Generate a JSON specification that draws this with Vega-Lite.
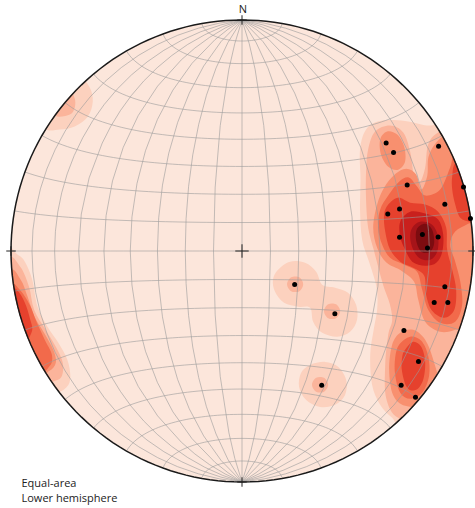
{
  "$schema": "https://vega.github.io/schema/vega-lite/v6.json",
  "width": 462,
  "height": 462,
  "autosize": "none",
  "padding": {"left": 11, "top": 20, "right": 2, "bottom": 26},
  "background": "white",
  "config": {"view": {"stroke": null}},
  "datasets": {
    "poles": [
      {"x": 0.624, "y": 0.468}, {"x": 0.656, "y": 0.426}, {"x": 0.851, "y": 0.453}, {"x": 0.715, "y": 0.286},
      {"x": 0.959, "y": 0.277}, {"x": 0.631, "y": 0.160}, {"x": 0.682, "y": 0.182}, {"x": 0.878, "y": 0.202},
      {"x": 0.989, "y": 0.141}, {"x": 0.682, "y": 0.059}, {"x": 0.781, "y": 0.071}, {"x": 0.803, "y": 0.013},
      {"x": 0.849, "y": 0.061}, {"x": 0.878, "y": -0.155}, {"x": 0.832, "y": -0.223}, {"x": 0.891, "y": -0.223},
      {"x": 0.701, "y": -0.344}, {"x": 0.764, "y": -0.478}, {"x": 0.689, "y": -0.581}, {"x": 0.751, "y": -0.633},
      {"x": 0.228, "y": -0.145}, {"x": 0.402, "y": -0.272}, {"x": 0.345, "y": -0.581}
    ],
    "contours": [
      {"id": "TL1", "level": 1, "i": 0, "x": -0.702, "y": 0.751},
      {"id": "TL1", "level": 1, "i": 1, "x": -0.659, "y": 0.708},
      {"id": "TL1", "level": 1, "i": 2, "x": -0.646, "y": 0.647},
      {"id": "TL1", "level": 1, "i": 3, "x": -0.667, "y": 0.582},
      {"id": "TL1", "level": 1, "i": 4, "x": -0.724, "y": 0.539},
      {"id": "TL1", "level": 1, "i": 5, "x": -0.789, "y": 0.526},
      {"id": "TL1", "level": 1, "i": 6, "x": -0.854, "y": 0.534},
      {"id": "TL1", "level": 1, "i": 7, "x": -0.875, "y": 0.656},
      {"id": "TL1", "level": 1, "i": 8, "x": -0.789, "y": 0.742},

      {"id": "W1", "level": 1, "i": 0, "x": -1.027, "y": 0.006},
      {"id": "W1", "level": 1, "i": 1, "x": -0.971, "y": -0.016},
      {"id": "W1", "level": 1, "i": 2, "x": -0.940, "y": -0.046},
      {"id": "W1", "level": 1, "i": 3, "x": -0.908, "y": -0.124},
      {"id": "W1", "level": 1, "i": 4, "x": -0.885, "y": -0.241},
      {"id": "W1", "level": 1, "i": 5, "x": -0.842, "y": -0.328},
      {"id": "W1", "level": 1, "i": 6, "x": -0.795, "y": -0.397},
      {"id": "W1", "level": 1, "i": 7, "x": -0.756, "y": -0.471},
      {"id": "W1", "level": 1, "i": 8, "x": -0.743, "y": -0.545},
      {"id": "W1", "level": 1, "i": 9, "x": -0.758, "y": -0.588},
      {"id": "W1", "level": 1, "i": 10, "x": -0.802, "y": -0.614},
      {"id": "W1", "level": 1, "i": 11, "x": -0.897, "y": -0.623},
      {"id": "W1", "level": 1, "i": 12, "x": -1.049, "y": -0.298},

      {"id": "M1a", "level": 1, "i": 0, "x": 0.156, "y": -0.081},
      {"id": "M1a", "level": 1, "i": 1, "x": 0.208, "y": -0.046},
      {"id": "M1a", "level": 1, "i": 2, "x": 0.273, "y": -0.051},
      {"id": "M1a", "level": 1, "i": 3, "x": 0.321, "y": -0.090},
      {"id": "M1a", "level": 1, "i": 4, "x": 0.347, "y": -0.146},
      {"id": "M1a", "level": 1, "i": 5, "x": 0.403, "y": -0.159},
      {"id": "M1a", "level": 1, "i": 6, "x": 0.459, "y": -0.181},
      {"id": "M1a", "level": 1, "i": 7, "x": 0.494, "y": -0.233},
      {"id": "M1a", "level": 1, "i": 8, "x": 0.498, "y": -0.298},
      {"id": "M1a", "level": 1, "i": 9, "x": 0.468, "y": -0.350},
      {"id": "M1a", "level": 1, "i": 10, "x": 0.412, "y": -0.371},
      {"id": "M1a", "level": 1, "i": 11, "x": 0.347, "y": -0.354},
      {"id": "M1a", "level": 1, "i": 12, "x": 0.308, "y": -0.306},
      {"id": "M1a", "level": 1, "i": 13, "x": 0.295, "y": -0.246},
      {"id": "M1a", "level": 1, "i": 14, "x": 0.243, "y": -0.241},
      {"id": "M1a", "level": 1, "i": 15, "x": 0.182, "y": -0.224},
      {"id": "M1a", "level": 1, "i": 16, "x": 0.143, "y": -0.176},
      {"id": "M1a", "level": 1, "i": 17, "x": 0.134, "y": -0.124},

      {"id": "M1b", "level": 1, "i": 0, "x": 0.295, "y": -0.493},
      {"id": "M1b", "level": 1, "i": 1, "x": 0.360, "y": -0.480},
      {"id": "M1b", "level": 1, "i": 2, "x": 0.416, "y": -0.501},
      {"id": "M1b", "level": 1, "i": 3, "x": 0.451, "y": -0.558},
      {"id": "M1b", "level": 1, "i": 4, "x": 0.446, "y": -0.623},
      {"id": "M1b", "level": 1, "i": 5, "x": 0.403, "y": -0.666},
      {"id": "M1b", "level": 1, "i": 6, "x": 0.338, "y": -0.675},
      {"id": "M1b", "level": 1, "i": 7, "x": 0.277, "y": -0.644},
      {"id": "M1b", "level": 1, "i": 8, "x": 0.247, "y": -0.588},
      {"id": "M1b", "level": 1, "i": 9, "x": 0.256, "y": -0.527},

      {"id": "R1", "level": 1, "i": 0, "x": 0.923, "y": 0.569},
      {"id": "R1", "level": 1, "i": 1, "x": 0.815, "y": 0.543},
      {"id": "R1", "level": 1, "i": 2, "x": 0.706, "y": 0.563},
      {"id": "R1", "level": 1, "i": 3, "x": 0.598, "y": 0.563},
      {"id": "R1", "level": 1, "i": 4, "x": 0.537, "y": 0.526},
      {"id": "R1", "level": 1, "i": 5, "x": 0.511, "y": 0.439},
      {"id": "R1", "level": 1, "i": 6, "x": 0.513, "y": 0.309},
      {"id": "R1", "level": 1, "i": 7, "x": 0.511, "y": 0.179},
      {"id": "R1", "level": 1, "i": 8, "x": 0.520, "y": 0.049},
      {"id": "R1", "level": 1, "i": 9, "x": 0.550, "y": -0.046},
      {"id": "R1", "level": 1, "i": 10, "x": 0.572, "y": -0.116},
      {"id": "R1", "level": 1, "i": 11, "x": 0.585, "y": -0.176},
      {"id": "R1", "level": 1, "i": 12, "x": 0.585, "y": -0.254},
      {"id": "R1", "level": 1, "i": 13, "x": 0.570, "y": -0.341},
      {"id": "R1", "level": 1, "i": 14, "x": 0.555, "y": -0.449},
      {"id": "R1", "level": 1, "i": 15, "x": 0.563, "y": -0.579},
      {"id": "R1", "level": 1, "i": 16, "x": 0.598, "y": -0.666},
      {"id": "R1", "level": 1, "i": 17, "x": 0.650, "y": -0.722},
      {"id": "R1", "level": 1, "i": 18, "x": 0.728, "y": -0.766},
      {"id": "R1", "level": 1, "i": 19, "x": 0.988, "y": -0.384},
      {"id": "R1", "level": 1, "i": 20, "x": 1.075, "y": 0.006},
      {"id": "R1", "level": 1, "i": 21, "x": 1.023, "y": 0.374},

      {"id": "TL2", "level": 2, "i": 0, "x": -0.745, "y": 0.686},
      {"id": "TL2", "level": 2, "i": 1, "x": -0.724, "y": 0.660},
      {"id": "TL2", "level": 2, "i": 2, "x": -0.724, "y": 0.621},
      {"id": "TL2", "level": 2, "i": 3, "x": -0.745, "y": 0.591},
      {"id": "TL2", "level": 2, "i": 4, "x": -0.806, "y": 0.586},
      {"id": "TL2", "level": 2, "i": 5, "x": -0.802, "y": 0.656},

      {"id": "W2", "level": 2, "i": 0, "x": -1.014, "y": -0.038},
      {"id": "W2", "level": 2, "i": 1, "x": -0.960, "y": -0.068},
      {"id": "W2", "level": 2, "i": 2, "x": -0.922, "y": -0.155},
      {"id": "W2", "level": 2, "i": 3, "x": -0.900, "y": -0.254},
      {"id": "W2", "level": 2, "i": 4, "x": -0.850, "y": -0.341},
      {"id": "W2", "level": 2, "i": 5, "x": -0.806, "y": -0.415},
      {"id": "W2", "level": 2, "i": 6, "x": -0.776, "y": -0.484},
      {"id": "W2", "level": 2, "i": 7, "x": -0.782, "y": -0.545},
      {"id": "W2", "level": 2, "i": 8, "x": -0.823, "y": -0.566},
      {"id": "W2", "level": 2, "i": 9, "x": -0.875, "y": -0.579},
      {"id": "W2", "level": 2, "i": 10, "x": -1.049, "y": -0.298},

      {"id": "M2a", "level": 2, "i": 0, "x": 0.265, "y": -0.144},
      {"id": "M2a", "level": 2, "i": 1, "x": 0.248, "y": -0.174},
      {"id": "M2a", "level": 2, "i": 2, "x": 0.213, "y": -0.174},
      {"id": "M2a", "level": 2, "i": 3, "x": 0.195, "y": -0.144},
      {"id": "M2a", "level": 2, "i": 4, "x": 0.213, "y": -0.114},
      {"id": "M2a", "level": 2, "i": 5, "x": 0.248, "y": -0.114},

      {"id": "M2b", "level": 2, "i": 0, "x": 0.425, "y": -0.261},
      {"id": "M2b", "level": 2, "i": 1, "x": 0.407, "y": -0.291},
      {"id": "M2b", "level": 2, "i": 2, "x": 0.373, "y": -0.291},
      {"id": "M2b", "level": 2, "i": 3, "x": 0.355, "y": -0.261},
      {"id": "M2b", "level": 2, "i": 4, "x": 0.373, "y": -0.231},
      {"id": "M2b", "level": 2, "i": 5, "x": 0.407, "y": -0.231},

      {"id": "M2c", "level": 2, "i": 0, "x": 0.373, "y": -0.579},
      {"id": "M2c", "level": 2, "i": 1, "x": 0.355, "y": -0.609},
      {"id": "M2c", "level": 2, "i": 2, "x": 0.321, "y": -0.609},
      {"id": "M2c", "level": 2, "i": 3, "x": 0.303, "y": -0.579},
      {"id": "M2c", "level": 2, "i": 4, "x": 0.321, "y": -0.549},
      {"id": "M2c", "level": 2, "i": 5, "x": 0.355, "y": -0.549},

      {"id": "R2", "level": 2, "i": 0, "x": 0.546, "y": 0.439},
      {"id": "R2", "level": 2, "i": 1, "x": 0.576, "y": 0.517},
      {"id": "R2", "level": 2, "i": 2, "x": 0.641, "y": 0.543},
      {"id": "R2", "level": 2, "i": 3, "x": 0.698, "y": 0.513},
      {"id": "R2", "level": 2, "i": 4, "x": 0.728, "y": 0.430},
      {"id": "R2", "level": 2, "i": 5, "x": 0.745, "y": 0.326},
      {"id": "R2", "level": 2, "i": 6, "x": 0.771, "y": 0.300},
      {"id": "R2", "level": 2, "i": 7, "x": 0.793, "y": 0.361},
      {"id": "R2", "level": 2, "i": 8, "x": 0.806, "y": 0.461},
      {"id": "R2", "level": 2, "i": 9, "x": 0.849, "y": 0.513},
      {"id": "R2", "level": 2, "i": 10, "x": 0.945, "y": 0.547},
      {"id": "R2", "level": 2, "i": 11, "x": 1.053, "y": 0.222},
      {"id": "R2", "level": 2, "i": 12, "x": 1.075, "y": -0.211},
      {"id": "R2", "level": 2, "i": 13, "x": 0.966, "y": -0.471},
      {"id": "R2", "level": 2, "i": 14, "x": 0.806, "y": -0.731},
      {"id": "R2", "level": 2, "i": 15, "x": 0.676, "y": -0.722},
      {"id": "R2", "level": 2, "i": 16, "x": 0.624, "y": -0.636},
      {"id": "R2", "level": 2, "i": 17, "x": 0.620, "y": -0.493},
      {"id": "R2", "level": 2, "i": 18, "x": 0.633, "y": -0.363},
      {"id": "R2", "level": 2, "i": 19, "x": 0.650, "y": -0.300},
      {"id": "R2", "level": 2, "i": 20, "x": 0.640, "y": -0.230},
      {"id": "R2", "level": 2, "i": 21, "x": 0.612, "y": -0.150},
      {"id": "R2", "level": 2, "i": 22, "x": 0.590, "y": -0.070},
      {"id": "R2", "level": 2, "i": 23, "x": 0.570, "y": 0.006},
      {"id": "R2", "level": 2, "i": 24, "x": 0.546, "y": 0.101},
      {"id": "R2", "level": 2, "i": 25, "x": 0.537, "y": 0.222},
      {"id": "R2", "level": 2, "i": 26, "x": 0.537, "y": 0.344},

      {"id": "W3", "level": 3, "i": 0, "x": -1.005, "y": -0.090},
      {"id": "W3", "level": 3, "i": 1, "x": -0.958, "y": -0.124},
      {"id": "W3", "level": 3, "i": 2, "x": -0.928, "y": -0.198},
      {"id": "W3", "level": 3, "i": 3, "x": -0.898, "y": -0.285},
      {"id": "W3", "level": 3, "i": 4, "x": -0.857, "y": -0.354},
      {"id": "W3", "level": 3, "i": 5, "x": -0.817, "y": -0.428},
      {"id": "W3", "level": 3, "i": 6, "x": -0.806, "y": -0.484},
      {"id": "W3", "level": 3, "i": 7, "x": -0.835, "y": -0.520},
      {"id": "W3", "level": 3, "i": 8, "x": -0.897, "y": -0.530},
      {"id": "W3", "level": 3, "i": 9, "x": -1.049, "y": -0.298},

      {"id": "R3u", "level": 3, "i": 0, "x": 0.598, "y": 0.482},
      {"id": "R3u", "level": 3, "i": 1, "x": 0.628, "y": 0.517},
      {"id": "R3u", "level": 3, "i": 2, "x": 0.672, "y": 0.504},
      {"id": "R3u", "level": 3, "i": 3, "x": 0.702, "y": 0.452},
      {"id": "R3u", "level": 3, "i": 4, "x": 0.706, "y": 0.387},
      {"id": "R3u", "level": 3, "i": 5, "x": 0.676, "y": 0.352},
      {"id": "R3u", "level": 3, "i": 6, "x": 0.633, "y": 0.365},
      {"id": "R3u", "level": 3, "i": 7, "x": 0.602, "y": 0.417},

      {"id": "R3a", "level": 3, "i": 0, "x": 0.585, "y": 0.201},
      {"id": "R3a", "level": 3, "i": 1, "x": 0.615, "y": 0.274},
      {"id": "R3a", "level": 3, "i": 2, "x": 0.660, "y": 0.330},
      {"id": "R3a", "level": 3, "i": 3, "x": 0.711, "y": 0.356},
      {"id": "R3a", "level": 3, "i": 4, "x": 0.754, "y": 0.331},
      {"id": "R3a", "level": 3, "i": 5, "x": 0.776, "y": 0.266},
      {"id": "R3a", "level": 3, "i": 6, "x": 0.802, "y": 0.326},
      {"id": "R3a", "level": 3, "i": 7, "x": 0.810, "y": 0.417},
      {"id": "R3a", "level": 3, "i": 8, "x": 0.867, "y": 0.495},
      {"id": "R3a", "level": 3, "i": 9, "x": 0.966, "y": 0.526},
      {"id": "R3a", "level": 3, "i": 10, "x": 1.053, "y": 0.287},
      {"id": "R3a", "level": 3, "i": 11, "x": 1.075, "y": -0.081},
      {"id": "R3a", "level": 3, "i": 12, "x": 0.979, "y": -0.306},
      {"id": "R3a", "level": 3, "i": 13, "x": 0.923, "y": -0.341},
      {"id": "R3a", "level": 3, "i": 14, "x": 0.858, "y": -0.350},
      {"id": "R3a", "level": 3, "i": 15, "x": 0.793, "y": -0.306},
      {"id": "R3a", "level": 3, "i": 16, "x": 0.763, "y": -0.211},
      {"id": "R3a", "level": 3, "i": 17, "x": 0.745, "y": -0.133},
      {"id": "R3a", "level": 3, "i": 18, "x": 0.690, "y": -0.085},
      {"id": "R3a", "level": 3, "i": 19, "x": 0.625, "y": -0.050},
      {"id": "R3a", "level": 3, "i": 20, "x": 0.585, "y": 0.014},
      {"id": "R3a", "level": 3, "i": 21, "x": 0.568, "y": 0.101},

      {"id": "R3b", "level": 3, "i": 0, "x": 0.650, "y": -0.406},
      {"id": "R3b", "level": 3, "i": 1, "x": 0.685, "y": -0.354},
      {"id": "R3b", "level": 3, "i": 2, "x": 0.741, "y": -0.341},
      {"id": "R3b", "level": 3, "i": 3, "x": 0.793, "y": -0.384},
      {"id": "R3b", "level": 3, "i": 4, "x": 0.828, "y": -0.471},
      {"id": "R3b", "level": 3, "i": 5, "x": 0.849, "y": -0.579},
      {"id": "R3b", "level": 3, "i": 6, "x": 0.793, "y": -0.666},
      {"id": "R3b", "level": 3, "i": 7, "x": 0.706, "y": -0.670},
      {"id": "R3b", "level": 3, "i": 8, "x": 0.654, "y": -0.623},
      {"id": "R3b", "level": 3, "i": 9, "x": 0.637, "y": -0.514},

      {"id": "W4", "level": 4, "i": 0, "x": -1.005, "y": -0.146},
      {"id": "W4", "level": 4, "i": 1, "x": -0.962, "y": -0.168},
      {"id": "W4", "level": 4, "i": 2, "x": -0.919, "y": -0.233},
      {"id": "W4", "level": 4, "i": 3, "x": -0.888, "y": -0.311},
      {"id": "W4", "level": 4, "i": 4, "x": -0.854, "y": -0.384},
      {"id": "W4", "level": 4, "i": 5, "x": -0.823, "y": -0.449},
      {"id": "W4", "level": 4, "i": 6, "x": -0.832, "y": -0.497},
      {"id": "W4", "level": 4, "i": 7, "x": -0.884, "y": -0.506},
      {"id": "W4", "level": 4, "i": 8, "x": -1.049, "y": -0.298},

      {"id": "R4a", "level": 4, "i": 0, "x": 0.598, "y": 0.179},
      {"id": "R4a", "level": 4, "i": 1, "x": 0.633, "y": 0.240},
      {"id": "R4a", "level": 4, "i": 2, "x": 0.680, "y": 0.300},
      {"id": "R4a", "level": 4, "i": 3, "x": 0.722, "y": 0.318},
      {"id": "R4a", "level": 4, "i": 4, "x": 0.757, "y": 0.280},
      {"id": "R4a", "level": 4, "i": 5, "x": 0.793, "y": 0.240},
      {"id": "R4a", "level": 4, "i": 6, "x": 0.858, "y": 0.266},
      {"id": "R4a", "level": 4, "i": 7, "x": 0.901, "y": 0.361},
      {"id": "R4a", "level": 4, "i": 8, "x": 0.927, "y": 0.430},
      {"id": "R4a", "level": 4, "i": 9, "x": 1.023, "y": 0.396},
      {"id": "R4a", "level": 4, "i": 10, "x": 1.053, "y": 0.157},
      {"id": "R4a", "level": 4, "i": 11, "x": 0.979, "y": 0.118},
      {"id": "R4a", "level": 4, "i": 12, "x": 0.923, "y": 0.084},
      {"id": "R4a", "level": 4, "i": 13, "x": 0.901, "y": 0.027},
      {"id": "R4a", "level": 4, "i": 14, "x": 0.923, "y": -0.046},
      {"id": "R4a", "level": 4, "i": 15, "x": 0.945, "y": -0.133},
      {"id": "R4a", "level": 4, "i": 16, "x": 0.953, "y": -0.233},
      {"id": "R4a", "level": 4, "i": 17, "x": 0.923, "y": -0.306},
      {"id": "R4a", "level": 4, "i": 18, "x": 0.858, "y": -0.311},
      {"id": "R4a", "level": 4, "i": 19, "x": 0.806, "y": -0.254},
      {"id": "R4a", "level": 4, "i": 20, "x": 0.780, "y": -0.168},
      {"id": "R4a", "level": 4, "i": 21, "x": 0.758, "y": -0.090},
      {"id": "R4a", "level": 4, "i": 22, "x": 0.702, "y": -0.059},
      {"id": "R4a", "level": 4, "i": 23, "x": 0.641, "y": -0.029},
      {"id": "R4a", "level": 4, "i": 24, "x": 0.607, "y": 0.027},
      {"id": "R4a", "level": 4, "i": 25, "x": 0.589, "y": 0.101},

      {"id": "R4b", "level": 4, "i": 0, "x": 0.680, "y": -0.406},
      {"id": "R4b", "level": 4, "i": 1, "x": 0.728, "y": -0.371},
      {"id": "R4b", "level": 4, "i": 2, "x": 0.776, "y": -0.389},
      {"id": "R4b", "level": 4, "i": 3, "x": 0.806, "y": -0.454},
      {"id": "R4b", "level": 4, "i": 4, "x": 0.810, "y": -0.540},
      {"id": "R4b", "level": 4, "i": 5, "x": 0.780, "y": -0.614},
      {"id": "R4b", "level": 4, "i": 6, "x": 0.728, "y": -0.640},
      {"id": "R4b", "level": 4, "i": 7, "x": 0.685, "y": -0.614},
      {"id": "R4b", "level": 4, "i": 8, "x": 0.663, "y": -0.536},
      {"id": "R4b", "level": 4, "i": 9, "x": 0.663, "y": -0.462},

      {"id": "W5", "level": 5, "i": 0, "x": -1.027, "y": -0.146},
      {"id": "W5", "level": 5, "i": 1, "x": -0.975, "y": -0.168},
      {"id": "W5", "level": 5, "i": 2, "x": -0.940, "y": -0.224},
      {"id": "W5", "level": 5, "i": 3, "x": -0.919, "y": -0.289},
      {"id": "W5", "level": 5, "i": 4, "x": -0.910, "y": -0.350},
      {"id": "W5", "level": 5, "i": 5, "x": -0.962, "y": -0.406},
      {"id": "W5", "level": 5, "i": 6, "x": -1.027, "y": -0.211},

      {"id": "R5a", "level": 5, "i": 0, "x": 0.633, "y": 0.201},
      {"id": "R5a", "level": 5, "i": 1, "x": 0.676, "y": 0.231},
      {"id": "R5a", "level": 5, "i": 2, "x": 0.728, "y": 0.209},
      {"id": "R5a", "level": 5, "i": 3, "x": 0.793, "y": 0.201},
      {"id": "R5a", "level": 5, "i": 4, "x": 0.849, "y": 0.170},
      {"id": "R5a", "level": 5, "i": 5, "x": 0.884, "y": 0.101},
      {"id": "R5a", "level": 5, "i": 6, "x": 0.888, "y": 0.006},
      {"id": "R5a", "level": 5, "i": 7, "x": 0.910, "y": -0.081},
      {"id": "R5a", "level": 5, "i": 8, "x": 0.927, "y": -0.168},
      {"id": "R5a", "level": 5, "i": 9, "x": 0.919, "y": -0.254},
      {"id": "R5a", "level": 5, "i": 10, "x": 0.875, "y": -0.289},
      {"id": "R5a", "level": 5, "i": 11, "x": 0.823, "y": -0.259},
      {"id": "R5a", "level": 5, "i": 12, "x": 0.797, "y": -0.189},
      {"id": "R5a", "level": 5, "i": 13, "x": 0.789, "y": -0.107},
      {"id": "R5a", "level": 5, "i": 14, "x": 0.741, "y": -0.072},
      {"id": "R5a", "level": 5, "i": 15, "x": 0.685, "y": -0.046},
      {"id": "R5a", "level": 5, "i": 16, "x": 0.641, "y": 0.006},
      {"id": "R5a", "level": 5, "i": 17, "x": 0.620, "y": 0.084},
      {"id": "R5a", "level": 5, "i": 18, "x": 0.615, "y": 0.157},

      {"id": "R5b", "level": 5, "i": 0, "x": 0.910, "y": 0.322},
      {"id": "R5b", "level": 5, "i": 1, "x": 0.927, "y": 0.383},
      {"id": "R5b", "level": 5, "i": 2, "x": 1.010, "y": 0.396},
      {"id": "R5b", "level": 5, "i": 3, "x": 1.040, "y": 0.127},
      {"id": "R5b", "level": 5, "i": 4, "x": 0.988, "y": 0.127},
      {"id": "R5b", "level": 5, "i": 5, "x": 0.945, "y": 0.144},
      {"id": "R5b", "level": 5, "i": 6, "x": 0.923, "y": 0.201},
      {"id": "R5b", "level": 5, "i": 7, "x": 0.910, "y": 0.266},

      {"id": "R5c", "level": 5, "i": 0, "x": 0.706, "y": -0.428},
      {"id": "R5c", "level": 5, "i": 1, "x": 0.741, "y": -0.393},
      {"id": "R5c", "level": 5, "i": 2, "x": 0.776, "y": -0.415},
      {"id": "R5c", "level": 5, "i": 3, "x": 0.793, "y": -0.480},
      {"id": "R5c", "level": 5, "i": 4, "x": 0.784, "y": -0.558},
      {"id": "R5c", "level": 5, "i": 5, "x": 0.754, "y": -0.601},
      {"id": "R5c", "level": 5, "i": 6, "x": 0.715, "y": -0.592},
      {"id": "R5c", "level": 5, "i": 7, "x": 0.693, "y": -0.523},
      {"id": "R5c", "level": 5, "i": 8, "x": 0.693, "y": -0.462},

      {"id": "R6", "level": 6, "i": 0, "x": 0.685, "y": 0.127},
      {"id": "R6", "level": 6, "i": 1, "x": 0.728, "y": 0.170},
      {"id": "R6", "level": 6, "i": 2, "x": 0.793, "y": 0.162},
      {"id": "R6", "level": 6, "i": 3, "x": 0.849, "y": 0.136},
      {"id": "R6", "level": 6, "i": 4, "x": 0.871, "y": 0.071},
      {"id": "R6", "level": 6, "i": 5, "x": 0.867, "y": -0.003},
      {"id": "R6", "level": 6, "i": 6, "x": 0.841, "y": -0.051},
      {"id": "R6", "level": 6, "i": 7, "x": 0.793, "y": -0.064},
      {"id": "R6", "level": 6, "i": 8, "x": 0.737, "y": -0.046},
      {"id": "R6", "level": 6, "i": 9, "x": 0.706, "y": 0.006},
      {"id": "R6", "level": 6, "i": 10, "x": 0.685, "y": 0.062},

      {"id": "R7", "level": 7, "i": 0, "x": 0.737, "y": 0.101},
      {"id": "R7", "level": 7, "i": 1, "x": 0.771, "y": 0.127},
      {"id": "R7", "level": 7, "i": 2, "x": 0.823, "y": 0.114},
      {"id": "R7", "level": 7, "i": 3, "x": 0.849, "y": 0.062},
      {"id": "R7", "level": 7, "i": 4, "x": 0.845, "y": -0.003},
      {"id": "R7", "level": 7, "i": 5, "x": 0.815, "y": -0.038},
      {"id": "R7", "level": 7, "i": 6, "x": 0.771, "y": -0.033},
      {"id": "R7", "level": 7, "i": 7, "x": 0.741, "y": 0.006},
      {"id": "R7", "level": 7, "i": 8, "x": 0.728, "y": 0.058},

      {"id": "R8", "level": 8, "i": 0, "x": 0.758, "y": 0.097},
      {"id": "R8", "level": 8, "i": 1, "x": 0.793, "y": 0.118},
      {"id": "R8", "level": 8, "i": 2, "x": 0.823, "y": 0.092},
      {"id": "R8", "level": 8, "i": 3, "x": 0.832, "y": 0.036},
      {"id": "R8", "level": 8, "i": 4, "x": 0.815, "y": -0.003},
      {"id": "R8", "level": 8, "i": 5, "x": 0.776, "y": -0.003},
      {"id": "R8", "level": 8, "i": 6, "x": 0.754, "y": 0.045}
    ],
    "ticks": [
      {"kind": "centre", "x": 0, "y": 0},
      {"kind": "edge", "x": 0, "y": 1},
      {"kind": "edge", "x": 0, "y": -1},
      {"kind": "edge", "x": 1, "y": 0},
      {"kind": "edge", "x": -1, "y": 0}
    ],
    "labels": [{"label": "N", "x": 0, "y": 1}],
    "caption": [{"label": "Equal-area\nLower hemisphere", "x": -1, "y": -1}]
  },
  "layer": [
    {
      "data": {"sphere": true},
      "projection": {"type": "azimuthalEqualArea", "clipAngle": 90},
      "mark": {"type": "geoshape", "fill": "#fce6db", "stroke": null}
    },
    {
      "data": {"name": "contours"},
      "mark": {"type": "line", "interpolate": "cardinal-closed", "filled": true, "strokeWidth": 0},
      "encoding": {
        "x": {"field": "x", "type": "quantitative", "scale": {"domain": [-1, 1], "nice": false, "zero": false}, "axis": null},
        "y": {"field": "y", "type": "quantitative", "scale": {"domain": [-1, 1], "nice": false, "zero": false}, "axis": null},
        "order": {"field": "i", "type": "quantitative"},
        "detail": {"field": "id", "type": "nominal"},
        "color": {"field": "level", "type": "ordinal", "legend": null,
          "scale": {"domain": [1, 2, 3, 4, 5, 6, 7, 8], "range": ["#fcd1be", "#fbb49b", "#f8906f", "#f26a4b", "#e6412d", "#c9201d", "#a61419", "#7c0c10"]}}
      }
    },
    {
      "data": {"graticule": {"step": [10, 10], "extent": [[-180, -89.99], [180, 89.99]]}},
      "projection": {"type": "azimuthalEqualArea", "clipAngle": 90},
      "mark": {"type": "geoshape", "filled": false, "stroke": "#9a9a9a", "strokeWidth": 0.6}
    },
    {
      "data": {"values": [{"x": 0, "y": 0}]},
      "mark": {"type": "point", "shape": "circle", "filled": false, "stroke": "white", "strokeWidth": 28, "size": 241081, "opacity": 1},
      "encoding": {
        "x": {"field": "x", "type": "quantitative", "scale": {"domain": [-1, 1], "nice": false, "zero": false}, "axis": null},
        "y": {"field": "y", "type": "quantitative", "scale": {"domain": [-1, 1], "nice": false, "zero": false}, "axis": null}
      }
    },
    {
      "data": {"sphere": true},
      "projection": {"type": "azimuthalEqualArea", "clipAngle": 90},
      "mark": {"type": "geoshape", "filled": false, "stroke": "#1a1a1a", "strokeWidth": 1.5}
    },
    {
      "data": {"name": "ticks"},
      "transform": [{"filter": "datum.kind == 'centre'"}],
      "mark": {"type": "point", "shape": "M-1,0L1,0M0,-1L0,1", "filled": false, "stroke": "#222222", "strokeWidth": 1, "size": 180, "opacity": 1},
      "encoding": {
        "x": {"field": "x", "type": "quantitative", "scale": {"domain": [-1, 1], "nice": false, "zero": false}, "axis": null},
        "y": {"field": "y", "type": "quantitative", "scale": {"domain": [-1, 1], "nice": false, "zero": false}, "axis": null}
      }
    },
    {
      "data": {"name": "ticks"},
      "transform": [{"filter": "datum.kind == 'edge'"}],
      "mark": {"type": "point", "shape": "M-1,0L1,0M0,-1L0,1", "filled": false, "stroke": "#222222", "strokeWidth": 1, "size": 90, "opacity": 1},
      "encoding": {
        "x": {"field": "x", "type": "quantitative", "scale": {"domain": [-1, 1], "nice": false, "zero": false}, "axis": null},
        "y": {"field": "y", "type": "quantitative", "scale": {"domain": [-1, 1], "nice": false, "zero": false}, "axis": null}
      }
    },
    {
      "data": {"name": "poles"},
      "mark": {"type": "point", "shape": "circle", "filled": true, "fill": "#000000", "stroke": null, "size": 25, "opacity": 1},
      "encoding": {
        "x": {"field": "x", "type": "quantitative", "scale": {"domain": [-1, 1], "nice": false, "zero": false}, "axis": null},
        "y": {"field": "y", "type": "quantitative", "scale": {"domain": [-1, 1], "nice": false, "zero": false}, "axis": null}
      }
    },
    {
      "data": {"name": "labels"},
      "mark": {"type": "text", "baseline": "bottom", "align": "center", "dy": -5, "dx": 1, "fontSize": 11, "font": "Open Sans", "color": "#222222"},
      "encoding": {
        "x": {"field": "x", "type": "quantitative", "scale": {"domain": [-1, 1], "nice": false, "zero": false}, "axis": null},
        "y": {"field": "y", "type": "quantitative", "scale": {"domain": [-1, 1], "nice": false, "zero": false}, "axis": null},
        "text": {"field": "label", "type": "nominal"}
      }
    },
    {
      "data": {"name": "caption"},
      "mark": {"type": "text", "baseline": "alphabetic", "align": "left", "dx": 10.5, "dy": 5.3, "lineBreak": "\n", "lineHeight": 14.5, "fontSize": 11, "font": "Open Sans", "color": "#222222"},
      "encoding": {
        "x": {"field": "x", "type": "quantitative", "scale": {"domain": [-1, 1], "nice": false, "zero": false}, "axis": null},
        "y": {"field": "y", "type": "quantitative", "scale": {"domain": [-1, 1], "nice": false, "zero": false}, "axis": null},
        "text": {"field": "label", "type": "nominal"}
      }
    }
  ]
}
